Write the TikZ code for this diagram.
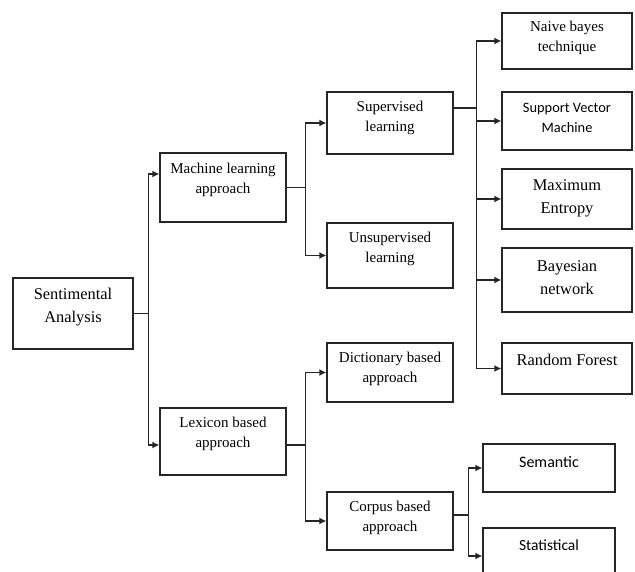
\documentclass[tikz,border=0pt]{standalone}
\usepackage{fontspec}
\setmainfont{Liberation Serif}
\newfontfamily\calfont{Carlito}
\usetikzlibrary{arrows.meta}
\tikzset{
  box/.style={draw=black!85, line width=1.3pt},
  txt/.style={align=center, text=black, font=\fontsize{15}{20}\selectfont},
  big/.style={align=center, text=black, font=\fontsize{16.4}{23}\selectfont},
  cal/.style={align=center, text=black, font=\calfont\fontsize{#1}{20}\selectfont},
  link/.style={draw=black!85, line width=1.3pt, ->},
}
\begin{document}
\begin{tikzpicture}[x=1pt,y=-1pt,>={Latex[length=7pt,width=7pt]}]
    \useasboundingbox (0,0) rectangle (635,572);
    \node[box,minimum width=120,minimum height=71,label={[big,yshift=6.5]center:Sentimental\\Analysis}] (sa) at (73,313.5) {};
    \node[box,minimum width=126,minimum height=69,label={[txt,yshift=7.5]center:Machine learning\\approach}] (ml) at (223,187.5) {};
    \node[box,minimum width=126,minimum height=67,label={[txt,yshift=7.5]center:Lexicon based\\approach}] (lex) at (223,441.5) {};
    \node[box,minimum width=126,minimum height=62,label={[txt,yshift=5]center:Supervised\\learning}] (sup) at (390,123) {};
    \node[box,minimum width=126,minimum height=65,label={[txt,yshift=6.5]center:Unsupervised\\learning}] (unsup) at (390,255.5) {};
    \node[box,minimum width=126,minimum height=59,label={[txt,yshift=3.5]center:Dictionary based\\approach}] (dict) at (390,372.5) {};
    \node[box,minimum width=126,minimum height=58,label={[txt,yshift=3]center:Corpus based\\approach}] (corpus) at (390,521) {};
    \node[box,minimum width=130,minimum height=56,label={[txt,yshift=3]center:Naive bayes\\technique}] (nb) at (567,41) {};
    \node[box,minimum width=130,minimum height=58,label={[cal=14.4,yshift=3]center:Support Vector\\Machine}] (svm) at (567,121) {};
    \node[box,minimum width=130,minimum height=60,label={[big,yshift=0.5]center:Maximum\\Entropy}] (me) at (567,199) {};
    \node[box,minimum width=130,minimum height=64,label={[big,yshift=2.5]center:Bayesian\\network}] (bn) at (567,280) {};
    \node[box,minimum width=130,minimum height=51,label={[big,yshift=8.5]center:Random Forest}] (rf) at (567,368.5) {};
    \node[box,minimum width=132,minimum height=48,label={[cal=16,yshift=6]center:Semantic}] (sem) at (549,468) {};
    \node[box,minimum width=132,minimum height=56,label={[cal=15.5,yshift=11]center:Statistical}] (stat) at (549,556) {};
    \draw[link] (sa.east) -- ++(15,0) |- ([yshift=13.5]ml.west);
    \draw[link] (sa.east) -- ++(15,0) |- ([yshift=-3.5]lex.west);
    \draw[link] (ml.east) -- ++(19,0) |- (sup.west);
    \draw[link] (ml.east) -- ++(19,0) |- (unsup.west);
    \draw[link] ([yshift=-3.5]lex.east) -- ++(19,0) |- (dict.west);
    \draw[link] ([yshift=-3.5]lex.east) -- ++(19,0) |- (corpus.west);
    \foreach \n in {nb,svm,me,bn,rf}
        \draw[link] ([yshift=15]sup.east) -- ++(23,0) |- (\n.west);
    \foreach \n in {sem,stat}
        \draw[link] ([yshift=6]corpus.east) -- ++(15,0) |- (\n.west);
\end{tikzpicture}
\end{document}
